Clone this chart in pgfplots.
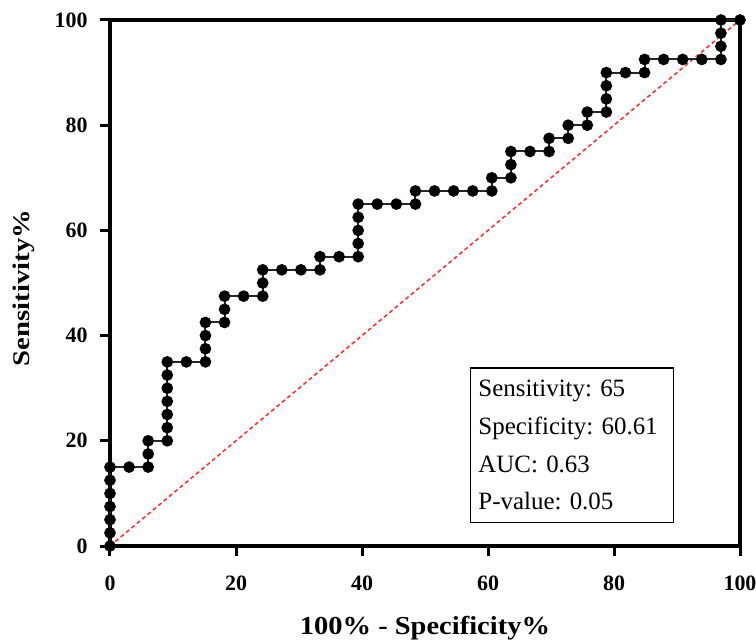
\documentclass[border=0pt]{standalone}
\usepackage{fontspec}
\setmainfont{Liberation Serif}
\usepackage{pgfplots}
\pgfplotsset{compat=1.18}
\frenchspacing
\begin{document}
\begin{tikzpicture}
\path[use as bounding box] (-110bp,-95bp) rectangle (646bp,546bp);
\begin{axis}[
  scale only axis, width=630bp, height=526bp,
  at={(0,0)}, anchor=south west,
  xmin=0, xmax=100, ymin=0, ymax=100,
  xtick={0,20,...,100}, ytick={0,20,...,100},
  tick pos=left, tick align=outside,
  major tick length=10bp,
  every tick/.style={line width=3bp, black},
  axis line style={line width=3.5bp},
  /pgf/number format/assume math mode=true,
  ticklabel style={font=\fontsize{22}{22}\selectfont\bfseries},
  xticklabel style={yshift=-16bp},
  yticklabel style={xshift=-9bp},
  clip=false,
  xlabel={\scalebox{1.1}[1]{\fontsize{26}{26}\selectfont\bfseries 100\% - Specificity\%}},
  ylabel={\scalebox{1.2}[1]{\fontsize{24}{24}\selectfont\bfseries Sensitivity\%}},
  xlabel style={at={(axis cs:50,-15.6)}, anchor=center},
  ylabel style={at={(axis cs:-13.65,49.05)}, anchor=center},
]
\addplot[red!80!white, line width=1.6bp, dash pattern=on 4bp off 3bp] coordinates {(0,0)(100,100)};
\addplot[black!85, line width=2bp, mark=*, mark size=4.8bp, mark options={black, solid}] coordinates {
(0,0)(0,2.5)(0,5)(0,7.5)(0,10)(0,12.5)(0,15)
(3.0303,15)
(6.0606,15)(6.0606,17.5)(6.0606,20)
(9.0909,20)(9.0909,22.5)(9.0909,25)(9.0909,27.5)(9.0909,30)(9.0909,32.5)(9.0909,35)
(12.1212,35)
(15.1515,35)(15.1515,37.5)(15.1515,40)(15.1515,42.5)
(18.1818,42.5)(18.1818,45)(18.1818,47.5)
(21.2121,47.5)
(24.2424,47.5)(24.2424,50)(24.2424,52.5)
(27.2727,52.5)
(30.3030,52.5)
(33.3333,52.5)(33.3333,55)
(36.3636,55)
(39.3939,55)(39.3939,57.5)(39.3939,60)(39.3939,62.5)(39.3939,65)
(42.4242,65)
(45.4545,65)
(48.4848,65)(48.4848,67.5)
(51.5152,67.5)
(54.5455,67.5)
(57.5758,67.5)
(60.6061,67.5)(60.6061,70)
(63.6364,70)(63.6364,72.5)(63.6364,75)
(66.6667,75)
(69.6970,75)(69.6970,77.5)
(72.7273,77.5)(72.7273,80)
(75.7576,80)(75.7576,82.5)
(78.7879,82.5)(78.7879,85)(78.7879,87.5)(78.7879,90)
(81.8182,90)
(84.8485,90)(84.8485,92.5)
(87.8788,92.5)
(90.9091,92.5)
(93.9394,92.5)
(96.9697,92.5)(96.9697,95)(96.9697,97.5)(96.9697,100)
(100,100)
};
\node[draw, line width=1.5bp, fill=white, anchor=north west, inner xsep=8bp, inner ysep=12bp,
  text width=187bp, align=left, font=\fontsize{25}{38}\selectfont]
  at (axis cs:57.1,34.0) {Sensitivity: 65\\Specificity: 60.61\\AUC: 0.63\\P-value: 0.05};
\end{axis}
\end{tikzpicture}
\end{document}
